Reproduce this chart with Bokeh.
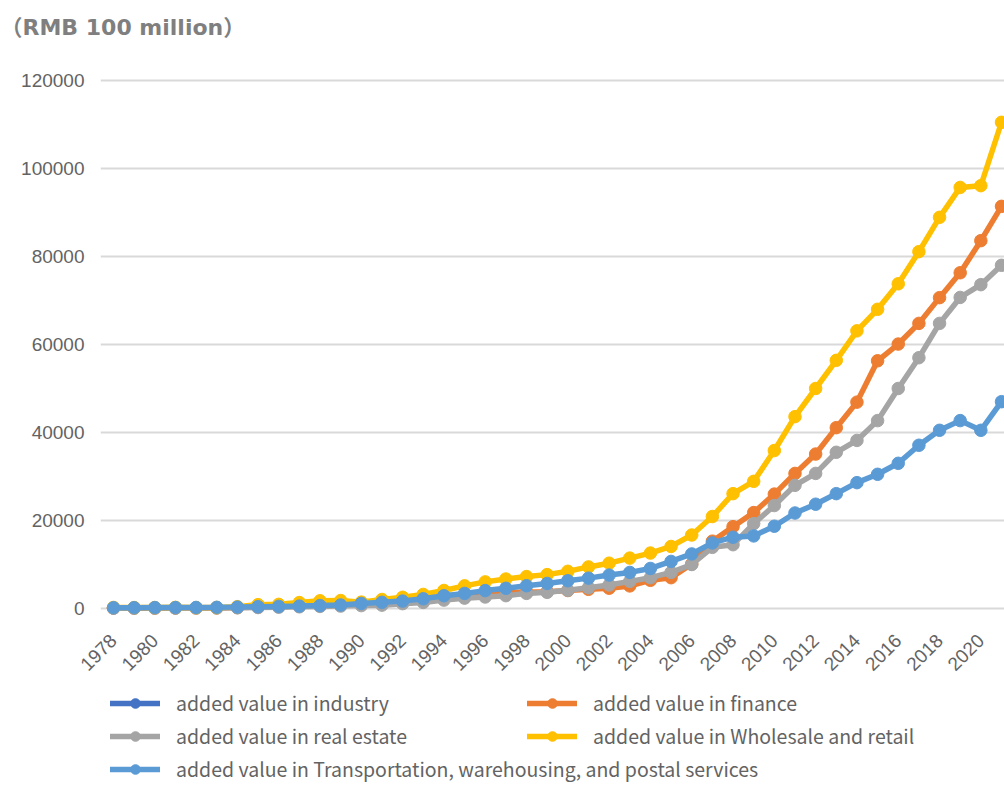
import math
from bokeh.plotting import figure
from bokeh.layouts import column
from bokeh.models import (ColumnDataSource, FixedTicker, BasicTickFormatter, Legend,
                          LegendItem, Label, Range1d)
from bokeh.embed import file_html
from bokeh.resources import INLINE

# ---------------- data (RMB 100 million) ----------------
years = list(range(1978, 2022))
tick_years = list(range(1978, 2021, 2))

industry = []  # not drawn in the reference (legend only)

finance = [77, 80, 85, 91, 121, 138, 200, 294, 430, 539, 645, 1018, 1172,
           1213, 1460, 1870, 2470, 3040, 3434, 3720, 3705, 3817, 4086, 4354, 4612, 5138,
           6400, 7000, 10100, 15300, 18600, 21800, 26000, 30700, 35100, 41100, 46900,
           56300, 60100, 64800, 70650, 76300, 83600, 91400]

real_estate = [80, 90, 96, 99, 122, 134, 164, 215, 294, 381, 470, 547, 662,
               763, 1101, 1379, 1909, 2354, 2618, 2921, 3434, 3681, 4149, 4715, 5346, 6172,
               7000, 8200, 10000, 13900, 14500, 19300, 23400, 28000, 30700, 35500, 38200,
               42700, 50000, 57000, 64800, 70700, 73600, 78000]

wholesale = [242, 220, 214, 256, 199, 231, 412, 878, 943, 1350, 1750, 1800, 1450,
             2050, 2550, 3200, 4100, 5150, 6050, 6700, 7250, 7700, 8450, 9450, 10300, 11450,
             12600, 14100, 16700, 20900, 26100, 28900, 35900, 43600, 50000, 56400, 63100,
             68000, 73800, 81100, 88900, 95700, 96100, 110500]

transport = [172, 184, 206, 212, 237, 265, 316, 407, 476, 544, 661, 786, 1148,
             1409, 1681, 2205, 2898, 3424, 4068, 4593, 5178, 5700, 6300, 6900, 7600, 8200,
             9100, 10700, 12400, 14900, 16200, 16500, 18700, 21700, 23700, 26100, 28600,
             30500, 33000, 37100, 40500, 42700, 40500, 47000]

series_names = ["added value in industry", "added value in finance",
                "added value in real estate", "added value in Wholesale and retail",
                "added value in Transportation, warehousing, and postal services"]
series_values = [industry, finance, real_estate, wholesale, transport]
series_colors = ["#4472C4", "#ED7D31", "#A5A5A5", "#FFC000", "#5B9BD5"]

y_ticks = [0, 20000, 40000, 60000, 80000, 100000, 120000]
title_text = "（RMB 100 million）"

W = 1004
TEXT_GRAY = "#636363"
LINE_W = 5.5
MARK = 12.5

def blank_fig(height):
    f = figure(width=W, height=height, output_backend="svg", toolbar_location=None,
               x_range=Range1d(0, 1), y_range=Range1d(0, 1),
               x_axis_location=None, y_axis_location=None,
               min_border_left=0, min_border_right=0, min_border_top=0, min_border_bottom=0,
               outline_line_color=None)
    f.grid.grid_line_color = None
    f.frame_align = False
    return f

# ---------------- title strip ----------------
tf = blank_fig(60)
tf.add_layout(Label(x=0, y=33, x_units="screen", y_units="screen", text=title_text,
                    text_font="DejaVu Sans, Noto Sans CJK SC", text_font_style="bold",
                    text_font_size="22px", text_color="#7F7F7F", text_baseline="middle"))

# ---------------- main chart ----------------
p = figure(width=W, height=620, output_backend="svg", toolbar_location=None,
           x_range=Range1d(1977.3705, 2021.145), y_range=Range1d(-1591, 120455),
           min_border_left=100, min_border_right=0, min_border_top=18,
           min_border_bottom=65, outline_line_color=None)
p.frame_align = False

p.xaxis.ticker = FixedTicker(ticks=tick_years)
p.xaxis.major_label_orientation = math.pi / 4
p.yaxis.ticker = FixedTicker(ticks=y_ticks)
p.yaxis.formatter = BasicTickFormatter(use_scientific=False)
for ax in (p.xaxis[0], p.yaxis[0]):
    ax.axis_line_color = None
    ax.major_tick_line_color = None
    ax.minor_tick_line_color = None
    ax.major_tick_in = 0
    ax.major_tick_out = 0
    ax.major_label_text_font = "Liberation Sans"
    ax.major_label_text_font_size = "19px"
    ax.major_label_text_color = TEXT_GRAY
p.yaxis.major_label_standoff = 16
p.xaxis.major_label_standoff = 22

p.xgrid.grid_line_color = None
p.ygrid.grid_line_color = "#D9D9D9"
p.ygrid.grid_line_width = 1.8

for name, vals, col in zip(series_names, series_values, series_colors):
    src = ColumnDataSource(dict(x=years[:len(vals)], y=vals))
    p.line("x", "y", source=src, line_color=col, line_width=LINE_W)
    p.scatter("x", "y", source=src, size=MARK, fill_color=col, line_color=col)

# ---------------- legend strip ----------------
lf = blank_fig(105)
items = []
nan = float("nan")
for name, col in zip(series_names, series_colors):
    src = ColumnDataSource(dict(x=[nan], y=[nan]))
    lr = lf.line("x", "y", source=src, line_color=col, line_width=LINE_W, line_cap="round")
    sr = lf.scatter("x", "y", source=src, size=MARK, fill_color=col, line_color=col)
    items.append(LegendItem(label=name, renderers=[lr, sr]))

legend_style = dict(border_line_color=None, background_fill_alpha=0, padding=0, margin=0,
                    glyph_width=50, glyph_height=24, label_height=24, spacing=4,
                    label_standoff=16, label_text_font="Noto Sans CJK SC",
                    label_text_font_size="19.5px", label_text_color=TEXT_GRAY,
                    label_text_baseline="middle")
lf.add_layout(Legend(items=[items[0], items[2], items[4]], location=(110, 2), **legend_style))
lf.add_layout(Legend(items=[items[1], items[3]], location=(527, 35), **legend_style))

layout = column(tf, p, lf, spacing=0)
open("out.html", "w").write(file_html(layout, INLINE))
